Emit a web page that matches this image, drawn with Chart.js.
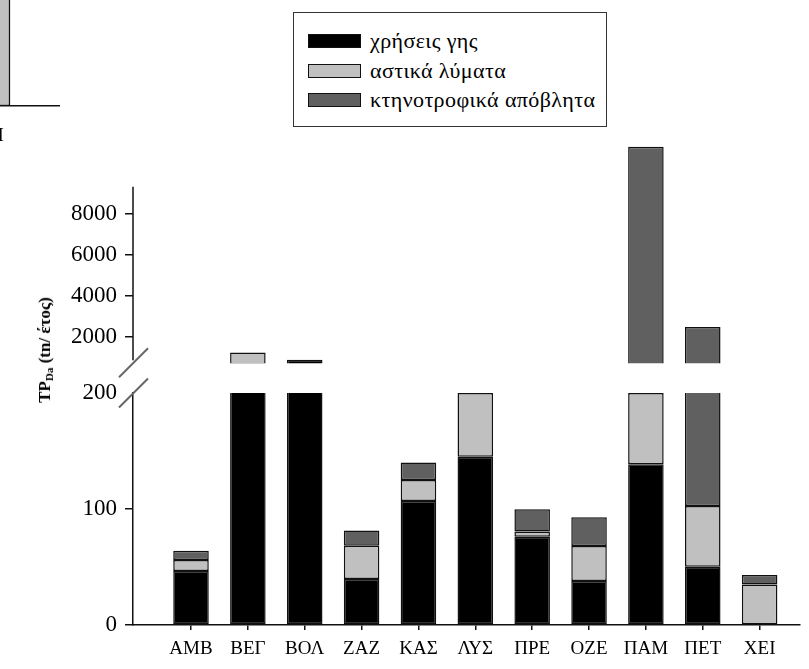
<!DOCTYPE html>
<html>
<head>
<meta charset="utf-8">
<script src="https://cdn.jsdelivr.net/npm/chart.js@4/dist/chart.umd.min.js"></script>
<style>
  html, body { margin: 0; padding: 0; background: #fff; }
  body { width: 809px; height: 669px; position: relative; overflow: hidden; font-family: "Liberation Serif", "DejaVu Serif", serif; }
  canvas { position: absolute; left: 0; }
  #legend {
    position: absolute; left: 293px; top: 12px; width: 312px; height: 113px;
    border: 1.5px solid #333; background: #fff; z-index: 2;
  }
  .row { position: absolute; left: 14px; height: 20px; display: flex; align-items: center; }
  .sw { width: 51px; height: 12px; border: 1.5px solid #111; margin-right: 9px; flex: none; }
  .lbl { font-family: "Liberation Serif", serif; font-size: 22px; letter-spacing: 0.4px; color: #000; white-space: nowrap; }
  #ytitle {
    position: absolute; left: 45px; top: 350px; transform: translate(-50%, -50%) rotate(-90deg);
    font-weight: bold; font-size: 17px; white-space: nowrap; color: #000;
  }
  #ytitle sub { font-size: 11px; vertical-align: -3px; }
</style>
</head>
<body>
<canvas id="neighbour" width="136" height="180" style="left:-76px; top:-30px;"></canvas>
<canvas id="upper" width="809" height="265" style="top:120px;"></canvas>
<canvas id="lower" width="809" height="329" style="top:340px;"></canvas>
<div id="legend"></div>
<div id="ytitle">TP<sub>Da</sub> (tn/ έτος)</div>
<script>
// Catchments and the three phosphorus-load sources (tn per year)
const categories = ['ΑΜΒ', 'ΒΕΓ', 'ΒΟΛ', 'ΖΑΖ', 'ΚΑΣ', 'ΛΥΣ', 'ΠΡΕ', 'ΟΖΕ', 'ΠΑΜ', 'ΠΕΤ', 'ΧΕΙ'];
const landUse        = [46.5, 650, 895, 39.7, 107, 145, 76, 38, 138.5, 50.3, 0];
const urbanWaste     = [9.5, 605, 0, 28.7, 18, 55, 4.5, 30, 61.5, 52.3, 35];
const livestockWaste = [8, 0, 0, 13, 15, 0, 19.2, 24.8, 11050, 2390, 8];
const seriesNames = ['χρήσεις γης', 'αστικά λύματα', 'κτηνοτροφικά απόβλητα'];

// Broken value axis: lower and upper tick sets
const lowerTicks = [0, 100, 200];
const upperTicks = [2000, 4000, 6000, 8000];

// Last bar of the neighbouring panel
const neighbourCategories = ['ΧΕΙ'];
const neighbourValues = [150];

// Styling
const fills = ['#000000', '#c0c0c0', '#606060'];
const edge = '#111111';
const serif = 'Liberation Serif';

const seriesValues = [landUse, urbanWaste, livestockWaste];

function buildDatasets() {
  return seriesValues.map((vals, s) => ({
    label: seriesNames[s],
    data: vals.map((v, i) => ({ x: i, y: v === 0 ? null : v })),
    backgroundColor: fills[s],
    borderColor: edge,
    borderWidth: 1.5,
    borderSkipped: false,
    categoryPercentage: 1,
    barPercentage: 0.625
  }));
}

function xScale(show) {
  return {
    type: 'linear', min: -1.02, max: 10.71, stacked: true, display: show, offset: false,
    afterBuildTicks: s => { s.ticks = categories.map((_, i) => ({ value: i })); },
    afterFit: s => { if (show) s.height = 44; },
    grid: { offset: false, drawOnChartArea: false, drawTicks: true, tickLength: 5, color: edge, lineWidth: 1.5 },
    border: { display: true, color: edge, width: 1.5 },
    ticks: {
      autoSkip: false, maxRotation: 0, padding: 8, color: '#000',
      font: { family: serif, size: 19 },
      callback: v => categories[v] ?? ''
    }
  };
}

function yScale(min, max, ticks, showBorder, hideTickAt) {
  return {
    min, max, stacked: true,
    afterBuildTicks: s => { s.ticks = ticks.map(v => ({ value: v })); },
    afterFit: s => { s.width = 133; },
    grid: {
      drawOnChartArea: false, tickLength: 8, lineWidth: 1.5,
      color: ctx => (ctx.tick && ctx.tick.value === hideTickAt) ? 'rgba(0,0,0,0)' : edge
    },
    border: { display: showBorder, color: edge, width: 1.5 },
    ticks: { padding: 8, color: '#000', font: { family: serif, size: 23 }, callback: v => String(v) }
  };
}

function drawBreak(ctx, x, y) {
  ctx.save();
  ctx.strokeStyle = '#666';
  ctx.lineWidth = 2;
  ctx.beginPath();
  ctx.moveTo(x - 14.5, y + 14.5);
  ctx.lineTo(x + 14.5, y - 14.5);
  ctx.stroke();
  ctx.restore();
}

// Upper axis line stops short of the tallest bar; break mark at its foot
const upperAxisEnd = 9300;
const upperAxisPlugin = {
  id: 'upperAxis',
  afterDraw(chart) {
    const { ctx, chartArea } = chart;
    const top = chart.scales.y.getPixelForValue(upperAxisEnd);
    ctx.save();
    ctx.strokeStyle = edge;
    ctx.lineWidth = 1.5;
    ctx.beginPath();
    ctx.moveTo(chartArea.left, top);
    ctx.lineTo(chartArea.left, chartArea.bottom - 3);
    ctx.stroke();
    ctx.restore();
    drawBreak(ctx, chartArea.left + 0.5, chartArea.bottom - 0.5);
  }
};

const lowerBreakPlugin = {
  id: 'lowerBreak',
  afterDraw(chart) {
    drawBreak(chart.ctx, chart.chartArea.left + 0.5, chart.chartArea.top);
  }
};

const common = {
  responsive: false,
  animation: false,
  events: [],
  plugins: { legend: { display: false }, tooltip: { enabled: false } }
};

new Chart(document.getElementById('upper'), {
  type: 'bar',
  data: { datasets: buildDatasets() },
  options: Object.assign({}, common, {
    layout: { padding: { top: 20, bottom: 19, left: 0, right: 9 } },
    scales: { x: xScale(false), y: yScale(730, 11490, upperTicks, false, null) }
  }),
  plugins: [upperAxisPlugin]
});

new Chart(document.getElementById('lower'), {
  type: 'bar',
  data: { datasets: buildDatasets() },
  options: Object.assign({}, common, {
    layout: { padding: { top: 53, bottom: 0, left: 0, right: 9 } },
    scales: { x: xScale(true), y: yScale(0, 200, lowerTicks, true, 200) }
  }),
  plugins: [lowerBreakPlugin]
});

new Chart(document.getElementById('neighbour'), {
  type: 'bar',
  data: {
    labels: neighbourCategories,
    datasets: [{
      data: neighbourValues, backgroundColor: fills[1], borderColor: edge,
      borderWidth: 1.5, borderSkipped: false, barThickness: 36
    }]
  },
  options: Object.assign({}, common, {
    layout: { padding: 0 },
    scales: {
      x: {
        afterFit: s => { s.height = 44; },
        grid: { drawOnChartArea: false, tickLength: 5, color: 'rgba(0,0,0,0)' },
        border: { display: true, color: edge, width: 1.5 },
        ticks: { padding: 14, labelOffset: -4, color: '#000', font: { family: serif, size: 19 } }
      },
      y: { display: false, min: 0, max: 100 }
    }
  })
});

// Legend box built from the series names and fills
const legend = document.getElementById('legend');
const rowTops = [18, 48, 77];
seriesNames.forEach((name, i) => {
  const row = document.createElement('div');
  row.className = 'row';
  row.style.top = rowTops[i] + 'px';
  const sw = document.createElement('div');
  sw.className = 'sw';
  sw.style.background = fills[i];
  const lbl = document.createElement('span');
  lbl.className = 'lbl';
  lbl.textContent = name;
  row.appendChild(sw);
  row.appendChild(lbl);
  legend.appendChild(row);
});
</script>
</body>
</html>
